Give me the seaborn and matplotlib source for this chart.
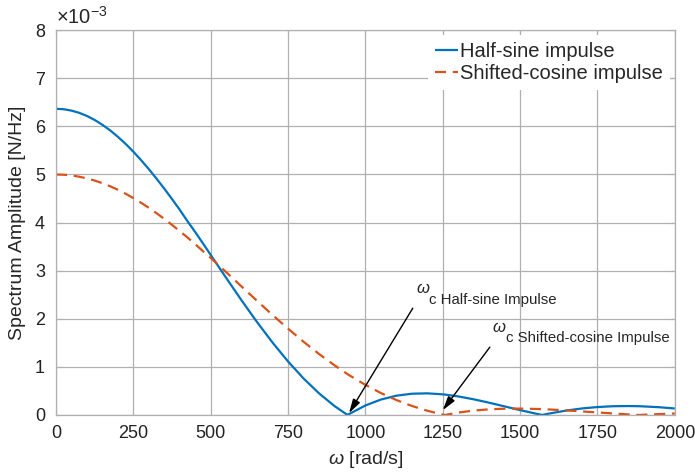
import numpy as np
import pandas as pd
import matplotlib
matplotlib.use("Agg")
import matplotlib.pyplot as plt
import seaborn as sns

# frequency samples [rad/s]
omega = [0, 25, 50, 75, 100, 125, 150, 175, 200, 225, 250, 275, 300, 325, 350,
         375, 400, 425, 450, 475, 500, 550, 600, 650, 700,
         750, 800, 850, 900, 942, 950, 1000, 1050, 1100, 1150, 1200, 1250, 1257,
         1300, 1350, 1400, 1450, 1500, 1550, 1571, 1600, 1650, 1700, 1750, 1800,
         1850, 1885, 1900, 1950, 2000]

# spectrum amplitude, x 1e-3 N/Hz
half_sine = [6.366, 6.357, 6.328, 6.282, 6.217, 6.134, 6.033, 5.917, 5.783, 5.636,
             5.474, 5.298, 5.111, 4.912, 4.705, 4.489, 4.265, 4.028, 3.802, 3.567,
             3.327, 2.850, 2.380, 1.929, 1.504, 1.112, 0.759, 0.450, 0.186, 0.0,
             0.029, 0.198, 0.321, 0.401, 0.442, 0.450, 0.429, 0.425, 0.386, 0.326,
             0.255, 0.178, 0.101, 0.029, 0.0, 0.037, 0.093, 0.136, 0.165, 0.182,
             0.186, 0.182, 0.178, 0.161, 0.135]

shifted_cos = [5.000, 4.995, 4.980, 4.954, 4.919, 4.874, 4.819, 4.755, 4.682, 4.600,
               4.510, 4.412, 4.307, 4.195, 4.076, 3.952, 3.822, 3.690, 3.550, 3.406,
               3.264, 2.969, 2.669, 2.371, 2.078, 1.794, 1.523, 1.268, 1.033, 0.850,
               0.818, 0.626, 0.456, 0.311, 0.188, 0.088, 0.009, 0.0, 0.050, 0.092,
               0.118, 0.131, 0.133, 0.126, 0.121, 0.113, 0.095, 0.074, 0.053, 0.032,
               0.012, 0.0, 0.005, 0.019, 0.030]

labels = ["Half-sine impulse", "Shifted-cosine impulse"]

df = pd.DataFrame({"omega": omega, labels[0]: half_sine, labels[1]: shifted_cos})
df = df.melt(id_vars="omega", var_name="pulse", value_name="amp")

sns.set_style("whitegrid")
plt.rcParams["font.family"] = ["Liberation Sans", "DejaVu Sans"]
plt.rcParams["mathtext.fontset"] = "custom"
plt.rcParams["mathtext.rm"] = "Liberation Sans"
plt.rcParams["mathtext.it"] = "Liberation Sans:italic"

fig = plt.figure(figsize=(6.95, 4.72), dpi=100)
ax = fig.add_axes([0.0806, 0.1208, 0.8904, 0.8152])

sns.lineplot(data=df, x="omega", y="amp", hue="pulse", style="pulse",
             palette=["#0072BD", "#D95319"], dashes=[(1, 0), (5, 3)],
             linewidth=1.6, ax=ax, sort=False)

ax.set_xlim(0, 2000)
ax.set_ylim(0, 8)
ax.set_xticks(range(0, 2001, 250))
ax.set_yticks(range(0, 9))
ax.grid(True, color="#b0b0b0", linewidth=0.9)
for s in ax.spines.values():
    s.set_color("#b0b0b0")
    s.set_linewidth(0.9)
ax.tick_params(direction="in", length=4, color="#b0b0b0", labelsize=13,
               top=True, right=True, bottom=True, left=True,
               labelcolor="#222222")
ax.tick_params(axis="x", pad=7)
ax.tick_params(axis="y", pad=8)

ax.set_xlabel("$\\omega$ [rad/s]", fontsize=14, labelpad=5)
ax.set_ylabel("Spectrum Amplitude [N/Hz]", fontsize=14, labelpad=6)
ax.text(0.0, 1.006, "×10$^{\\mathregular{-3}}$", transform=ax.transAxes,
        fontsize=14.5, ha="left", va="bottom")

leg = ax.legend(loc="upper right", frameon=True, fontsize=14.5, handlelength=1.15,
                handletextpad=0.1, borderaxespad=0.25, labelspacing=0.12,
                borderpad=0.35)
leg.get_frame().set_edgecolor("none")
leg.get_frame().set_facecolor("white")
leg.get_frame().set_alpha(1)
leg.set_title(None)

# annotations
arrow = dict(arrowstyle="-|>,head_length=0.7,head_width=0.2", color="black",
             lw=1, mutation_scale=12, shrinkA=0, shrinkB=0)
ax.annotate("", xy=(947, 0.04), xytext=(1153, 2.22), arrowprops=arrow)
ax.text(1164, 2.64, "$\\omega$", fontsize=12, ha="left", va="center")
ax.text(1205, 2.39, "c Half-sine Impulse", fontsize=10.8, ha="left", va="center")

ax.annotate("", xy=(1250, 0.10), xytext=(1402, 1.41), arrowprops=arrow)
ax.text(1410, 1.81, "$\\omega$", fontsize=12, ha="left", va="center")
ax.text(1454, 1.60, "c Shifted-cosine Impulse", fontsize=10.8, ha="left", va="center")

fig.savefig("out.png", dpi=100)
